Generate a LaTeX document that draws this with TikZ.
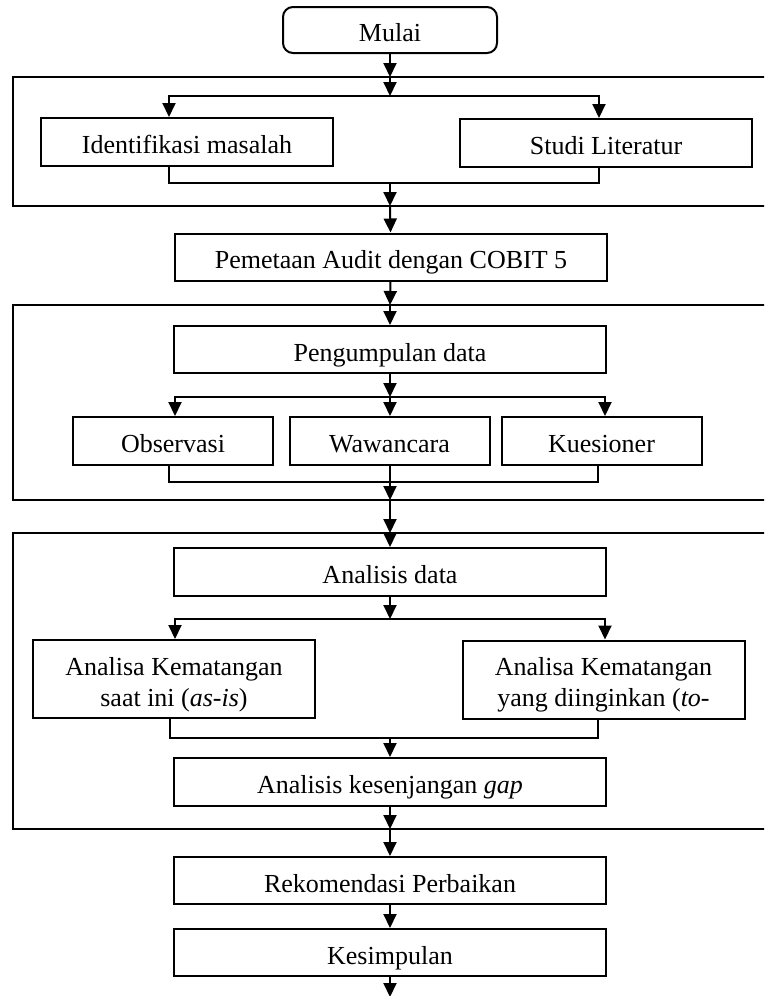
\documentclass[tikz,border=0pt]{standalone}
\usepackage{fontspec}
\setmainfont{Liberation Serif}
\usetikzlibrary{arrows.meta}
\tikzstyle{startstop} = [
    rectangle,
    rounded corners=10pt,
    minimum width=214pt,
    minimum height=46pt,
    inner sep=0pt,
    text height=23pt,
    text depth=0pt,
    font=\fontsize{26}{31}\selectfont,
    line width=2pt,
    draw=black
]
\tikzstyle{process} = [
    rectangle,
    minimum width=432pt,
    minimum height=47pt,
    inner sep=0pt,
    text height=23pt,
    text depth=0pt,
    font=\fontsize{26}{31}\selectfont,
    line width=2pt,
    draw=black
]
\tikzstyle{twoline} = [
    process,
    align=flush center,
    text width=270pt,
    minimum width=282pt,
    minimum height=78pt,
    text height=20pt,
    text depth=28pt
]
\tikzstyle{group} = [line width=2pt, draw=black]
\tikzstyle{line} = [line width=2pt]
\tikzstyle{arrow} = [line width=2pt, -{Triangle[length=14pt,width=13pt]}]

\begin{document}
\begin{tikzpicture}[x=1pt, y=-1pt]

\clip (0,0) rectangle (764,996);
\fill [white] (0,0) rectangle (764,996);

\draw [group] (13,77) rectangle (772,206);
\draw [group] (13,305) rectangle (772,500);
\draw [group] (13,533) rectangle (772,829);

\node (start) [startstop] at (390,30) {Mulai};

\node (ident) [process, minimum width=292pt, minimum height=48pt] at (187,142)
{Identifikasi masalah};

\node (studi) [process, minimum width=292pt, minimum height=48pt] at (606,143)
{Studi Literatur};

\node (pemetaan) [process] at (391,257)
{Pemetaan Audit dengan COBIT 5};

\node (kumpul) [process] at (390,349.5)
{Pengumpulan data};

\node (obs) [process, minimum width=200pt, minimum height=48pt] at (173,441)
{Observasi};

\node (wawan) [process, minimum width=200pt, minimum height=48pt] at (389.5,441)
{Wawancara};

\node (kues) [process, minimum width=200pt, minimum height=48pt] at (601.5,441)
{Kuesioner};

\node (analisis) [process, minimum height=48pt] at (390,572)
{Analisis data};

\node (asis) [twoline] at (174,679)
{Analisa Kematangan\\saat ini (\textit{as}-\textit{is})};

\node (tobe) [twoline] at (603.5,679.5)
{Analisa Kematangan\\yang diinginkan (\textit{to}-};

\node (gap) [process, minimum height=48pt] at (390,782)
{Analisis kesenjangan \textit{gap}};

\node (rekom) [process] at (390,880.5)
{Rekomendasi Perbaikan};

\node (simpul) [process] at (390,952.5)
{Kesimpulan};

\coordinate (g1in) at (390,77);
\coordinate (g1out) at (390,206);
\coordinate (f1) at (390,96);
\coordinate (f1l) at (169,96);
\coordinate (f1r) at (599,96);
\coordinate (m1) at (390,183);
\coordinate (m1l) at (169,183);
\coordinate (m1r) at (599,183);

\coordinate (g2in) at (390,305);
\coordinate (g2out) at (390,500);
\coordinate (f2) at (390,397);
\coordinate (f2l) at (175,397);
\coordinate (f2r) at (605,397);
\coordinate (m2) at (390,482);
\coordinate (m2l) at (169,482);
\coordinate (m2r) at (598,482);

\coordinate (g3in) at (390,533);
\coordinate (g3out) at (390,829);
\coordinate (f3) at (390,619);
\coordinate (f3l) at (175,619);
\coordinate (f3r) at (605,619);
\coordinate (m3) at (390,738);
\coordinate (m3l) at (170,738);
\coordinate (m3r) at (598,738);

\coordinate (end) at (390,997);

\draw [arrow] (start) -- (g1in);
\draw [arrow] (g1in) -- (f1);
\draw [arrow] (f1) -- (f1l) -- (f1l |- ident.north);
\draw [arrow] (f1) -- (f1r) -- (f1r |- studi.north);
\draw [line] (ident.south -| m1l) -- (m1l) -- (m1r) -- (studi.south -| m1r);
\draw [arrow] (m1) -- (g1out);
\draw [arrow] (g1out) -- (pemetaan);

\draw [arrow] (pemetaan) -- (g2in);
\draw [arrow] (g2in) -- (kumpul);
\draw [arrow] (kumpul) -- (f2);
\draw [arrow] (f2) -- (f2l) -- (f2l |- obs.north);
\draw [arrow] (f2) -- (f2 |- wawan.north);
\draw [arrow] (f2) -- (f2r) -- (f2r |- kues.north);
\draw [line] (obs.south -| m2l) -- (m2l) -- (m2r) -- (kues.south -| m2r);
\draw [line] (wawan.south -| m2) -- (m2);
\draw [arrow] (m2) -- (g2out);

\draw [arrow] (g2out) -- (g3in);
\draw [arrow] (g3in) -- (analisis);
\draw [arrow] (analisis) -- (f3);
\draw [arrow] (f3) -- (f3l) -- (f3l |- asis.north);
\draw [arrow] (f3) -- (f3r) -- (f3r |- tobe.north);
\draw [line] (asis.south -| m3l) -- (m3l) -- (m3r) -- (tobe.south -| m3r);
\draw [arrow] (m3) -- (gap);
\draw [arrow] (gap) -- (g3out);

\draw [arrow] (g3out) -- (rekom);
\draw [arrow] (rekom) -- (simpul);
\draw [arrow] (simpul) -- (end);

\end{tikzpicture}
\end{document}
